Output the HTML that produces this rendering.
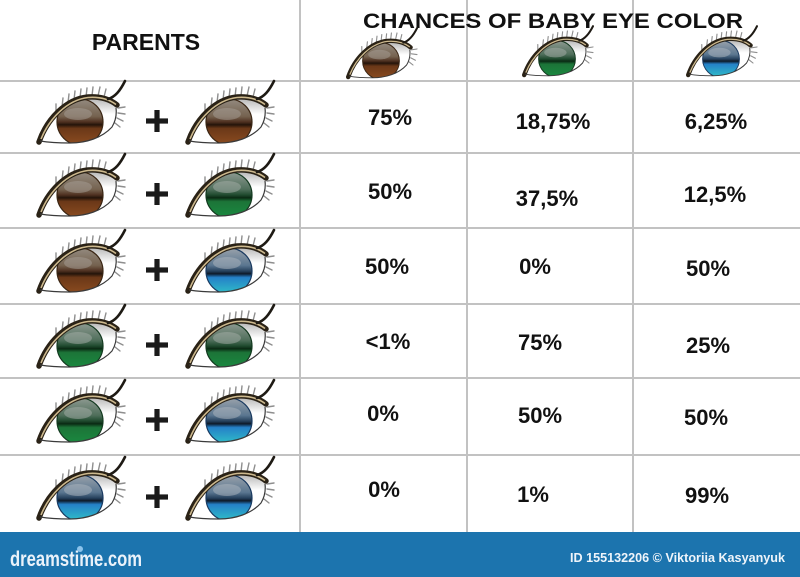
<!DOCTYPE html>
<html>
<head>
<meta charset="utf-8">
<style>
html,body{margin:0;padding:0;background:#fff;}
svg{display:block;}
text{font-family:"Liberation Sans",Arial,sans-serif;}
</style>
</head>
<body>
<svg width="800" height="577" viewBox="0 0 800 577" xmlns="http://www.w3.org/2000/svg">
<defs>
  <clipPath id="eyeclip" clipPathUnits="userSpaceOnUse">
    <path d="M -40 19 C -32 -2, -14 -21, 8 -23 C 20 -24, 30 -21, 36 -16 C 38 -8, 36 0, 32 5 C 22 16, 6 21, -10 21 C -24 21, -34 20, -40 19 Z"/>
  </clipPath>
  <linearGradient id="gBrown" x1="0" y1="0" x2="0" y2="1">
    <stop offset="0" stop-color="#948b80"/>
    <stop offset="0.38" stop-color="#75624f"/>
    <stop offset="0.5" stop-color="#4e3020"/>
    <stop offset="0.56" stop-color="#24140a"/>
    <stop offset="0.64" stop-color="#6b3818"/>
    <stop offset="1" stop-color="#8c4c20"/>
  </linearGradient>
  <linearGradient id="gGreen" x1="0" y1="0" x2="0" y2="1">
    <stop offset="0" stop-color="#8f9a92"/>
    <stop offset="0.38" stop-color="#4e6e5a"/>
    <stop offset="0.5" stop-color="#1f4a2e"/>
    <stop offset="0.56" stop-color="#0a2a14"/>
    <stop offset="0.64" stop-color="#1c7438"/>
    <stop offset="1" stop-color="#1a8a40"/>
  </linearGradient>
  <linearGradient id="gBlue" x1="0" y1="0" x2="0" y2="1">
    <stop offset="0" stop-color="#9aa2ab"/>
    <stop offset="0.38" stop-color="#5a7690"/>
    <stop offset="0.5" stop-color="#27425e"/>
    <stop offset="0.56" stop-color="#0e1a2a"/>
    <stop offset="0.64" stop-color="#2580c8"/>
    <stop offset="1" stop-color="#30c0c8"/>
  </linearGradient>
  <linearGradient id="lidShade" x1="0" y1="0" x2="0" y2="1">
    <stop offset="0" stop-color="#b8b8b8"/>
    <stop offset="0.35" stop-color="#ffffff"/>
    <stop offset="1" stop-color="#ffffff"/>
  </linearGradient>

  <g id="eyebase">
    <path d="M -40 19 C -32 -2, -14 -21, 8 -23 C 20 -24, 30 -21, 36 -16 C 38 -8, 36 0, 32 5 C 22 16, 6 21, -10 21 C -24 21, -34 20, -40 19 Z" fill="url(#lidShade)"/>
  </g>
  <g id="eyetop">
    <g stroke="#8e8e8e" stroke-width="1.4" stroke-linecap="round" fill="none">
      <line x1="-24" y1="-10" x2="-24" y2="-18"/>
      <line x1="-18" y1="-15" x2="-17" y2="-24"/>
      <line x1="-12" y1="-19" x2="-11" y2="-28"/>
      <line x1="-6" y1="-22" x2="-5" y2="-31"/>
      <line x1="0" y1="-24" x2="1" y2="-33"/>
      <line x1="6" y1="-25" x2="7" y2="-34"/>
      <line x1="12" y1="-26" x2="13" y2="-35"/>
      <line x1="18" y1="-26" x2="20" y2="-35"/>
      <line x1="24" y1="-25" x2="26" y2="-33"/>
      <line x1="38" y1="-14" x2="45" y2="-15"/>
      <line x1="38" y1="-9" x2="45" y2="-8"/>
      <line x1="37" y1="-4" x2="43" y2="-1"/>
      <line x1="35" y1="1" x2="40" y2="5"/>
    </g>
    <path d="M -41 20 C -33 -3, -14 -23, 8 -25 C 21 -26, 31 -22, 37 -17" fill="none" stroke="#2a2216" stroke-width="5.5" stroke-linecap="round"/>
    <path d="M -39 17 C -31 -3, -13 -22, 8 -24.5 C 21 -25.5, 30 -22, 36 -17.5" fill="none" stroke="#cdb98e" stroke-width="1.6"/>
    <path d="M 28 -23 C 35 -25, 40 -31, 45 -41" fill="none" stroke="#1e1a14" stroke-width="2.6" stroke-linecap="round"/>
    <path d="M -40 19 C -34 20, -24 21, -10 21 C 6 21, 22 16, 32 5 C 35 0, 37 -6, 36 -14" fill="none" stroke="#3a3a3a" stroke-width="1.2"/>
  </g>

  <g id="eyeB">
    <use href="#eyebase"/>
    <g clip-path="url(#eyeclip)">
      <circle cx="0" cy="0" r="23" fill="url(#gBrown)" stroke="#3a2614" stroke-width="1.2"/>
      <ellipse cx="-2" cy="-8" rx="14" ry="6" fill="#a8a098" opacity="0.5"/>
    </g>
    <use href="#eyetop"/>
  </g>
  <g id="eyeG">
    <use href="#eyebase"/>
    <g clip-path="url(#eyeclip)">
      <circle cx="0" cy="0" r="23" fill="url(#gGreen)" stroke="#143a20" stroke-width="1.2"/>
      <ellipse cx="-2" cy="-8" rx="14" ry="6" fill="#a8b0aa" opacity="0.5"/>
    </g>
    <use href="#eyetop"/>
  </g>
  <g id="eyeU">
    <use href="#eyebase"/>
    <g clip-path="url(#eyeclip)">
      <circle cx="0" cy="0" r="23" fill="url(#gBlue)" stroke="#1a3a60" stroke-width="1.2"/>
      <ellipse cx="-2" cy="-8" rx="14" ry="6" fill="#b0b8c0" opacity="0.5"/>
    </g>
    <use href="#eyetop"/>
  </g>
  <g id="plus" fill="#1a1a1a">
    <rect x="-11" y="-2.6" width="22" height="5.2"/>
    <rect x="-2.6" y="-11" width="5.2" height="22"/>
  </g>
</defs>

<rect x="0" y="0" width="800" height="577" fill="#ffffff"/>

<g stroke="#c2c2c2" stroke-width="2">
  <line x1="0" y1="81" x2="800" y2="81"/>
  <line x1="0" y1="153" x2="800" y2="153"/>
  <line x1="0" y1="228" x2="800" y2="228"/>
  <line x1="0" y1="304" x2="800" y2="304"/>
  <line x1="0" y1="378" x2="800" y2="378"/>
  <line x1="0" y1="455" x2="800" y2="455"/>
  <line x1="300" y1="0" x2="300" y2="532"/>
  <line x1="467" y1="0" x2="467" y2="532"/>
  <line x1="633" y1="0" x2="633" y2="532"/>
</g>

<text x="146" y="50" font-size="23" font-weight="bold" fill="#111" text-anchor="middle">PARENTS</text>
<text x="363" y="28" font-size="21" font-weight="bold" fill="#111" textLength="380" lengthAdjust="spacingAndGlyphs">CHANCES OF BABY EYE COLOR</text>

<use href="#eyeB" transform="translate(381,61) scale(0.8)"/>
<use href="#eyeG" transform="translate(557,59) scale(0.8)"/>
<use href="#eyeU" transform="translate(721,59) scale(0.8)"/>

<use href="#eyeB" transform="translate(80,122)"/>
<use href="#plus" transform="translate(157,121)"/>
<use href="#eyeB" transform="translate(229,122)"/>

<use href="#eyeB" transform="translate(80,195)"/>
<use href="#plus" transform="translate(157,194)"/>
<use href="#eyeG" transform="translate(229,195)"/>

<use href="#eyeB" transform="translate(80,271)"/>
<use href="#plus" transform="translate(157,270)"/>
<use href="#eyeU" transform="translate(229,271)"/>

<use href="#eyeG" transform="translate(80,346)"/>
<use href="#plus" transform="translate(157,345)"/>
<use href="#eyeG" transform="translate(229,346)"/>

<use href="#eyeG" transform="translate(80,421)"/>
<use href="#plus" transform="translate(157,420)"/>
<use href="#eyeU" transform="translate(229,421)"/>

<use href="#eyeU" transform="translate(80,498)"/>
<use href="#plus" transform="translate(157,497)"/>
<use href="#eyeU" transform="translate(229,498)"/>

<g font-size="22" font-weight="bold" fill="#111" text-anchor="middle">
  <text x="390" y="125">75%</text>
  <text x="553" y="129">18,75%</text>
  <text x="716" y="129">6,25%</text>

  <text x="390" y="199">50%</text>
  <text x="547" y="206">37,5%</text>
  <text x="715" y="202">12,5%</text>

  <text x="387" y="274">50%</text>
  <text x="535" y="274">0%</text>
  <text x="708" y="276">50%</text>

  <text x="388" y="349">&lt;1%</text>
  <text x="540" y="350">75%</text>
  <text x="708" y="353">25%</text>

  <text x="383" y="421">0%</text>
  <text x="540" y="423">50%</text>
  <text x="706" y="425">50%</text>

  <text x="384" y="497">0%</text>
  <text x="533" y="502">1%</text>
  <text x="707" y="503">99%</text>
</g>

<rect x="0" y="532" width="800" height="45" fill="#1c74ae"/>
<text x="10" y="566" font-size="21" font-weight="bold" fill="#eaf2fa" textLength="132" lengthAdjust="spacingAndGlyphs">dreamstime.com</text>
<circle cx="80" cy="549" r="3" fill="#8cc4ec"/>
<text x="570" y="562" font-size="13" font-weight="bold" fill="#eef4fa" textLength="215" lengthAdjust="spacingAndGlyphs">ID 155132206 © Viktoriia  Kasyanyuk</text>
</svg>
</body>
</html>
